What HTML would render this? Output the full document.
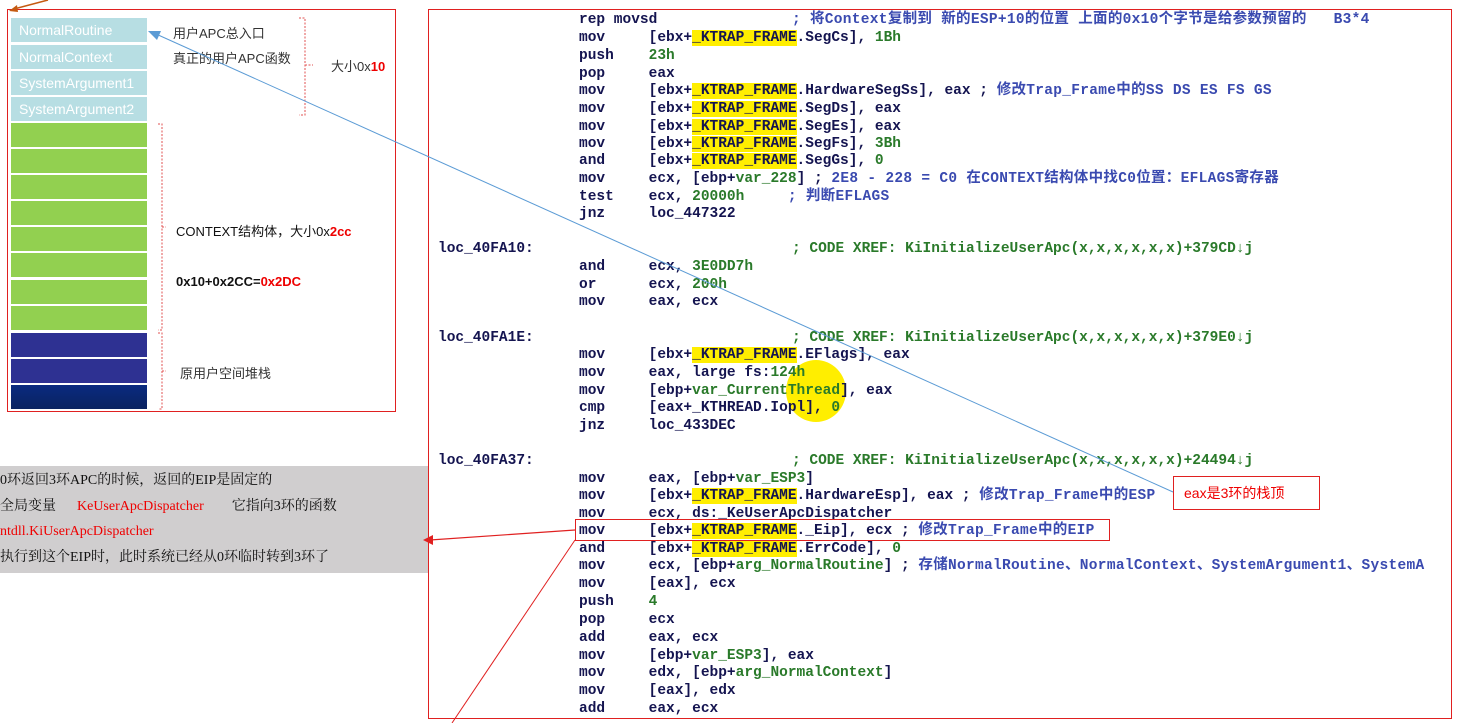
<!DOCTYPE html>
<html><head><meta charset="utf-8"><style>
body{margin:0;width:1472px;height:723px;background:#fff;position:relative;overflow:hidden;font-family:"Liberation Sans","Noto Sans CJK SC",sans-serif}
.a{position:absolute}
.r{position:absolute;left:11px;width:136px;color:#fff;font-size:14px;line-height:24px;padding-left:8px;box-sizing:border-box}
.lb{background:#b7dee3;height:24px}
.g{background:#92d050;height:24px}
.d{background:#2e3192;height:24px}
.c{position:absolute;font-family:"Liberation Mono","Noto Sans CJK SC",monospace;font-weight:bold;font-size:14.5px;letter-spacing:0;color:#141450;white-space:pre;line-height:16px}
.y{background:#ffee00}
.n{color:#2a7a2a}
.cm{color:#3a4ab0;letter-spacing:0.3px}
.x{color:#2a7a2a}
</style></head><body>
<div class="a" style="left:7px;top:9px;width:389px;height:403px;border:1px solid #e02020;box-sizing:border-box"></div>
<div class="r lb" style="top:18px">NormalRoutine</div>
<div class="r lb" style="top:45px">NormalContext</div>
<div class="r lb" style="top:71px">SystemArgument1</div>
<div class="r lb" style="top:97px">SystemArgument2</div>
<div class="r g" style="top:123px"></div><div class="r g" style="top:149px"></div><div class="r g" style="top:175px"></div><div class="r g" style="top:201px"></div><div class="r g" style="top:227px"></div><div class="r g" style="top:253px"></div><div class="r g" style="top:280px"></div><div class="r g" style="top:306px"></div>
<div class="r d" style="top:333px"></div><div class="r d" style="top:359px"></div><div class="r" style="top:385px;height:24px;background:linear-gradient(#0a2a80,#0a2360)"></div>
<div class="a" style="left:173px;top:23px;font-size:13px;color:#333">用户APC总入口</div>
<div class="a" style="left:173px;top:48px;font-size:13px;color:#333">真正的用户APC函数</div>
<div class="a" style="left:331px;top:56px;font-size:13px;color:#333">大小0x<b style="color:#e00">10</b></div>
<div class="a" style="left:176px;top:221px;font-size:13px;color:#111">CONTEXT结构体，大小0x<b style="color:#e00">2cc</b></div>
<div class="a" style="left:176px;top:274px;font-size:13px;color:#111;font-weight:bold">0x10+0x2CC=<span style="color:#e00">0x2DC</span></div>
<div class="a" style="left:180px;top:363px;font-size:13px;color:#333">原用户空间堆栈</div>
<svg class="a" style="left:0;top:0" width="1472" height="723">
<g fill="none" stroke="#e05050" stroke-dasharray="2,1.5" stroke-width="1">
<path d="M299,18 h6 v97 h-6 M305,65 h8"/>
<path d="M158,124 h4 v206 h-4 M162,227 h4"/>
<path d="M158,333 h4 v76 h-4 M162,371 h4"/>
</g>
</svg>
<div class="a" style="left:0;top:466px;width:428px;height:105px;background:#d0cecf;font-family:'Liberation Serif','Noto Serif CJK SC',serif;font-size:14px;line-height:25.5px;color:#111;padding-top:2px">
<div>0环返回3环APC的时候，返回的EIP是固定的</div>
<div>全局变量&nbsp;&nbsp;&nbsp;&nbsp;&nbsp;&nbsp;<span style="color:#e00">KeUserApcDispatcher</span>&nbsp;&nbsp;&nbsp;&nbsp;&nbsp;&nbsp;&nbsp;&nbsp;它指向3环的函数</div>
<div style="color:#e00">ntdll.KiUserApcDispatcher</div>
<div>执行到这个EIP时，此时系统已经从0环临时转到3环了</div>
</div>
<div class="a" style="left:428px;top:9px;width:1024px;height:710px;border:1px solid #e02020;box-sizing:border-box;overflow:hidden">
<div class="a" style="left:357px;top:350px;width:60px;height:62px;border-radius:50%;background:#ffee00"></div>
</div>
<div class="a" style="left:429px;top:10px;width:1022px;height:708px;overflow:hidden">
<div style="position:absolute;left:-429px;top:-8px">
<div class="c" style="left:579px;top:10px">rep movsd</div><div class="c cm" style="left:792px;top:10px">; 将Context复制到 新的ESP+10的位置 上面的0x10个字节是给参数预留的   B3*4</div>
<div class="c" style="left:579px;top:28px">mov     [ebx+<span class="y">_KTRAP_FRAME</span>.SegCs], <span class="n">1Bh</span></div>
<div class="c" style="left:579px;top:46px">push    <span class="n">23h</span></div>
<div class="c" style="left:579px;top:64px">pop     eax</div>
<div class="c" style="left:579px;top:81px">mov     [ebx+<span class="y">_KTRAP_FRAME</span>.HardwareSegSs], eax ; <span class="cm">修改Trap_Frame中的SS DS ES FS GS</span></div>
<div class="c" style="left:579px;top:99px">mov     [ebx+<span class="y">_KTRAP_FRAME</span>.SegDs], eax</div>
<div class="c" style="left:579px;top:117px">mov     [ebx+<span class="y">_KTRAP_FRAME</span>.SegEs], eax</div>
<div class="c" style="left:579px;top:134px">mov     [ebx+<span class="y">_KTRAP_FRAME</span>.SegFs], <span class="n">3Bh</span></div>
<div class="c" style="left:579px;top:151px">and     [ebx+<span class="y">_KTRAP_FRAME</span>.SegGs], <span class="n">0</span></div>
<div class="c" style="left:579px;top:169px">mov     ecx, [ebp+<span class="n">var_228</span>] ; <span class="cm">2E8 - 228 = C0 在CONTEXT结构体中找C0位置：EFLAGS寄存器</span></div>
<div class="c" style="left:579px;top:187px">test    ecx, <span class="n">20000h</span>     <span class="cm">; 判断EFLAGS</span></div>
<div class="c" style="left:579px;top:204px">jnz     loc_447322</div>
<div class="c" style="left:438px;top:239px">loc_40FA10:</div><div class="c x" style="left:792px;top:239px">; CODE XREF: KiInitializeUserApc(x,x,x,x,x,x)+379CD↓j</div>
<div class="c" style="left:579px;top:257px">and     ecx, <span class="n">3E0DD7h</span></div>
<div class="c" style="left:579px;top:275px">or      ecx, <span class="n">200h</span></div>
<div class="c" style="left:579px;top:292px">mov     eax, ecx</div>
<div class="c" style="left:438px;top:328px">loc_40FA1E:</div><div class="c x" style="left:792px;top:328px">; CODE XREF: KiInitializeUserApc(x,x,x,x,x,x)+379E0↓j</div>
<div class="c" style="left:579px;top:345px">mov     [ebx+<span class="y">_KTRAP_FRAME</span>.EFlags], eax</div>
<div class="c" style="left:579px;top:363px">mov     eax, large fs:<span class="n">124h</span></div>
<div class="c" style="left:579px;top:381px">mov     [ebp+<span class="n">var_CurrentThread</span>], eax</div>
<div class="c" style="left:579px;top:398px">cmp     [eax+_KTHREAD.Iopl], <span class="n">0</span></div>
<div class="c" style="left:579px;top:416px">jnz     loc_433DEC</div>
<div class="c" style="left:438px;top:451px">loc_40FA37:</div><div class="c x" style="left:792px;top:451px">; CODE XREF: KiInitializeUserApc(x,x,x,x,x,x)+24494↓j</div>
<div class="c" style="left:579px;top:469px">mov     eax, [ebp+<span class="n">var_ESP3</span>]</div>
<div class="c" style="left:579px;top:486px">mov     [ebx+<span class="y">_KTRAP_FRAME</span>.HardwareEsp], eax ; <span class="cm">修改Trap_Frame中的ESP</span></div>
<div class="c" style="left:579px;top:504px">mov     ecx, ds:_KeUserApcDispatcher</div>
<div class="c" style="left:579px;top:521px">mov     [ebx+<span class="y">_KTRAP_FRAME</span>._Eip], ecx ; <span class="cm">修改Trap_Frame中的EIP</span></div>
<div class="c" style="left:579px;top:539px">and     [ebx+<span class="y">_KTRAP_FRAME</span>.ErrCode], <span class="n">0</span></div>
<div class="c" style="left:579px;top:556px">mov     ecx, [ebp+<span class="n">arg_NormalRoutine</span>] ; <span class="cm">存储NormalRoutine、NormalContext、SystemArgument1、SystemA</span></div>
<div class="c" style="left:579px;top:574px">mov     [eax], ecx</div>
<div class="c" style="left:579px;top:592px">push    <span class="n">4</span></div>
<div class="c" style="left:579px;top:610px">pop     ecx</div>
<div class="c" style="left:579px;top:628px">add     eax, ecx</div>
<div class="c" style="left:579px;top:646px">mov     [ebp+<span class="n">var_ESP3</span>], eax</div>
<div class="c" style="left:579px;top:663px">mov     edx, [ebp+<span class="n">arg_NormalContext</span>]</div>
<div class="c" style="left:579px;top:681px">mov     [eax], edx</div>
<div class="c" style="left:579px;top:699px">add     eax, ecx</div>
</div></div>
<div class="a" style="left:1173px;top:476px;width:147px;height:34px;border:1px solid #e02020;box-sizing:border-box;background:#fff;color:#e00;font-size:14px;line-height:32px;padding-left:10px">eax是3环的栈顶</div>
<div class="a" style="left:575px;top:519px;width:535px;height:22px;border:1px solid #e02020;box-sizing:border-box"></div>
<svg class="a" style="left:0;top:0" width="1472" height="723">
<line x1="1173" y1="492" x2="156" y2="34" stroke="#5b9bd5" stroke-width="1"/>
<polygon points="148,31 161,31 157,40" fill="#5b9bd5"/>
<line x1="575" y1="530" x2="430" y2="540" stroke="#e02020" stroke-width="1.2"/>
<polygon points="423,540 433,535 433,545" fill="#e02020"/>
<line x1="575" y1="540" x2="452" y2="723" stroke="#e02020" stroke-width="1"/>
<line x1="48" y1="0" x2="14" y2="9" stroke="#c55a11" stroke-width="1.5"/>
<polygon points="9,11 17,5 18,12" fill="#c55a11"/>
</svg>
</body></html>
